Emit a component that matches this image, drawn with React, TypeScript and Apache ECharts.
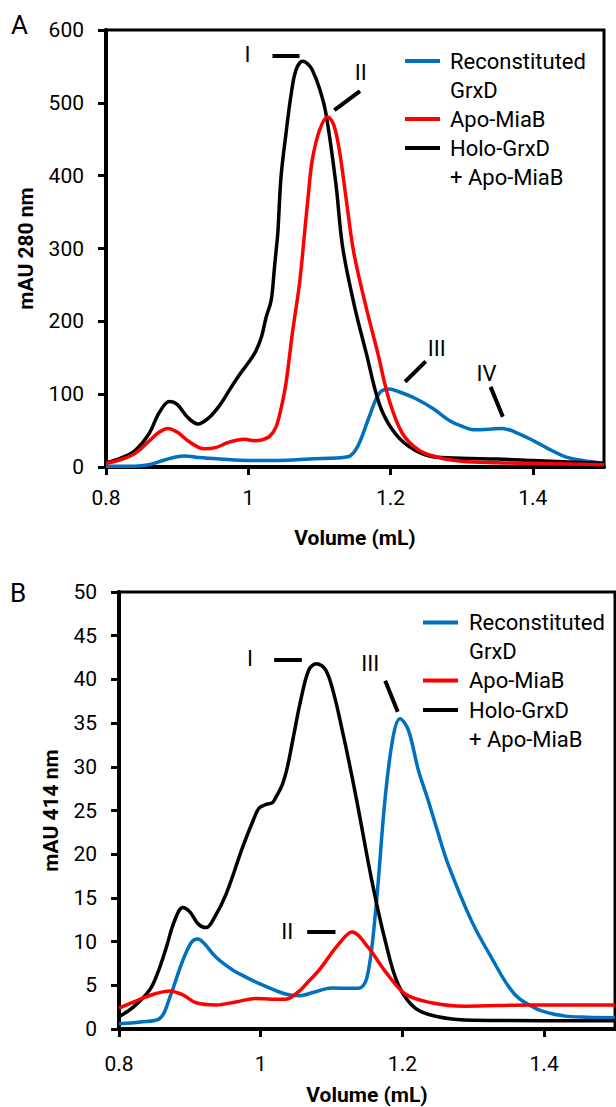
import React, { useEffect, useRef } from "react";
import * as echarts from "echarts";

const FONT = "Roboto, Lato, sans-serif";

const seriesNames = ["Reconstituted GrxD", "Apo-MiaB", "Holo-GrxD + Apo-MiaB"];
const legendLines = [["Reconstituted", "GrxD"], ["Apo-MiaB"], ["Holo-GrxD", "+ Apo-MiaB"]];
const colors = ["#0070C0", "#FF0000", "#000000"];

const xTicks = [0.8, 1.0, 1.2, 1.4];

// Panel A: absorbance at 280 nm (mAU) vs elution volume (mL)
const blueA: [number, number][] = [
  [0.8, 1], [0.84, 1], [0.86, 3], [0.88, 9], [0.9, 14], [0.911, 15], [0.93, 13], [0.96, 11],
  [1.0, 9], [1.04, 9], [1.086, 11], [1.14, 14], [1.1536, 28], [1.17, 69], [1.184, 101],
  [1.198, 107], [1.21, 104], [1.235, 94], [1.26, 80], [1.2826, 64], [1.3, 56], [1.319, 51],
  [1.34, 52], [1.357, 53], [1.375, 48], [1.399, 37], [1.42, 26], [1.446, 14], [1.47, 9], [1.5, 5],
];
const redA: [number, number][] = [
  [0.8, 5], [0.82, 10], [0.84, 18], [0.86, 35], [0.875, 48], [0.887, 53], [0.9, 48], [0.915, 36],
  [0.93, 27], [0.939, 25], [0.955, 27], [0.97, 33], [0.985, 37], [0.995, 38], [1.008, 36],
  [1.018, 37], [1.03, 42], [1.039, 55], [1.046, 80], [1.053, 115], [1.062, 184], [1.072, 252],
  [1.079, 320], [1.085, 380], [1.09, 422], [1.1, 462], [1.1115, 481], [1.12, 470], [1.128, 435],
  [1.138, 365], [1.148, 296], [1.165, 222], [1.1816, 158], [1.198, 92], [1.2167, 46], [1.24, 23],
  [1.268, 13], [1.3, 8], [1.35, 6], [1.4, 5], [1.45, 4], [1.5, 3],
];
const blackA: [number, number][] = [
  [0.8, 6], [0.82, 12], [0.84, 22], [0.86, 45], [0.875, 75], [0.889, 90], [0.9, 86], [0.915, 68],
  [0.929, 59], [0.945, 68], [0.96, 85], [0.975, 108], [0.99, 130], [1.0, 143], [1.01, 158],
  [1.018, 177], [1.0252, 206], [1.0322, 229], [1.0369, 275], [1.0392, 298], [1.0415, 321],
  [1.046, 398], [1.053, 458], [1.06, 510], [1.067, 545], [1.0765, 557], [1.084, 553],
  [1.09, 545], [1.1, 520], [1.109, 486], [1.123, 390], [1.1326, 302], [1.149, 222],
  [1.1654, 158], [1.184, 87], [1.2026, 51], [1.226, 28], [1.259, 14], [1.3, 12], [1.35, 11],
  [1.4, 9], [1.45, 7], [1.5, 5],
];

// Panel B: absorbance at 414 nm (mAU) vs elution volume (mL)
const blueB: [number, number][] = [
  [0.8, 0.6], [0.83, 0.8], [0.8575, 1.2], [0.8716, 3.6], [0.888, 7.4], [0.902, 9.9],
  [0.9113, 10.3], [0.92, 9.8], [0.937, 8.2], [0.9604, 6.75], [0.98, 5.9], [0.998, 5.2],
  [1.035, 4.0], [1.054, 3.8], [1.075, 4.2], [1.1, 4.7], [1.138, 4.65], [1.15, 5.9],
  [1.1617, 13.1], [1.1757, 26.5], [1.187, 33.5], [1.1966, 35.5], [1.2084, 34.2],
  [1.2225, 29.6], [1.235, 26.5], [1.25, 22.5], [1.2646, 18.8], [1.2973, 12.4], [1.3254, 8.2],
  [1.358, 4.0], [1.391, 2.25], [1.428, 1.5], [1.46, 1.35], [1.5, 1.3],
];
const redB: [number, number][] = [
  [0.8, 2.4], [0.8295, 3.4], [0.85, 4.0], [0.8716, 4.35], [0.89, 3.9], [0.909, 3.0],
  [0.937, 2.75], [0.965, 3.1], [0.993, 3.5], [1.015, 3.4], [1.035, 3.4], [1.054, 4.3],
  [1.068, 5.5], [1.082, 6.7], [1.11, 9.7], [1.129, 11.1], [1.152, 9.3], [1.1757, 6.6],
  [1.204, 4.0], [1.241, 3.0], [1.288, 2.6], [1.38, 2.75], [1.5, 2.75],
];
const blackB: [number, number][] = [
  [0.8, 1.4], [0.82, 2.5], [0.8435, 4.5], [0.855, 6.5], [0.867, 9.4], [0.878, 12.3],
  [0.89, 13.9], [0.9, 13.4], [0.912, 12.0], [0.923, 11.6], [0.935, 12.8], [0.951, 15.4],
  [0.9745, 20.8], [0.99, 24.0], [0.998, 25.3], [1.008, 25.7], [1.0166, 25.9], [1.0213, 26.5],
  [1.0306, 28.0], [1.0377, 30.0], [1.047, 33.8], [1.0564, 37.6], [1.068, 41.1], [1.0785, 41.8],
  [1.0916, 41.1], [1.103, 38.4], [1.115, 34.2], [1.124, 30.8], [1.137, 25.5], [1.157, 16.9],
  [1.1757, 10.1], [1.194, 5.1], [1.218, 2.4], [1.25, 1.4], [1.3, 1.0], [1.4, 0.95], [1.5, 0.95],
];

// Peak annotations (data coordinates)
const peakLabelsA = [
  { name: "I", coord: [0.999, 566] },
  { name: "II", coord: [1.158, 542] },
  { name: "III", coord: [1.265, 163] },
  { name: "IV", coord: [1.335, 129] },
];
const peakLinesA = [
  [[1.034, 564], [1.072, 564]],
  [[1.121, 490], [1.157, 516]],
  [[1.2204, 117], [1.2494, 145]],
  [[1.3406, 110], [1.3578, 69]],
];
const peakLabelsB = [
  { name: "I", coord: [0.985, 42.4] },
  { name: "III", coord: [1.1547, 41.8] },
  { name: "II", coord: [1.0376, 11.1] },
];
const peakLinesB = [
  [[1.019, 42.3], [1.058, 42.3]],
  [[1.1757, 39.85], [1.1934, 36.3]],
  [[1.0657, 11.1], [1.1055, 11.1]],
];

const fmtX = (v: number) => String(Math.round(v * 10) / 10);

function makeAxes(gridIndex: number, yName: string, yMax: number, yInterval: number, xGap: number, yGap: number, xLabelMargin: number) {
  const xAxis = {
    gridIndex,
    type: "value",
    min: 0.8,
    max: 1.5,
    interval: 0.2,
    name: "Volume (mL)",
    nameLocation: "middle",
    nameGap: xGap,
    nameTextStyle: { fontFamily: FONT, fontWeight: "bold", fontSize: 21, color: "#000" },
    axisLine: { show: true, onZero: false, lineStyle: { color: "#000", width: 4 } },
    axisTick: { show: true, length: 8, customValues: xTicks, lineStyle: { color: "#000", width: 3 } },
    axisLabel: { customValues: xTicks, formatter: fmtX, fontFamily: FONT, fontSize: 21, color: "#000", margin: xLabelMargin },
    splitLine: { show: false },
  };
  const yAxis = {
    gridIndex,
    type: "value",
    min: 0,
    max: yMax,
    interval: yInterval,
    name: yName,
    nameLocation: "middle",
    nameRotate: 90,
    nameGap: yGap,
    nameTextStyle: { fontFamily: FONT, fontWeight: "bold", fontSize: 21, color: "#000" },
    axisLine: { show: true, onZero: false, lineStyle: { color: "#000", width: 4 } },
    axisTick: { show: true, length: 8, lineStyle: { color: "#000", width: 3 } },
    axisLabel: { fontFamily: FONT, fontSize: 21, color: "#000", margin: 22 },
    splitLine: { show: false },
  };
  return { xAxis, yAxis };
}

function lineSeries(name: string, color: string, data: [number, number][], idx: number, extra: any = {}) {
  return {
    type: "line",
    name,
    xAxisIndex: idx,
    yAxisIndex: idx,
    data,
    smooth: 0.35,
    showSymbol: false,
    symbol: "none",
    lineStyle: { color, width: 3.5 },
    itemStyle: { color },
    ...extra,
  };
}

function annotations(labels: any[], lines: any[]) {
  return {
    markPoint: {
      silent: true,
      symbol: "circle",
      symbolSize: 0,
      label: { show: true, position: "inside", formatter: "{b}", fontFamily: FONT, fontSize: 22, color: "#000" },
      data: labels.map((l) => ({ name: l.name, coord: l.coord })),
    },
    markLine: {
      silent: true,
      symbol: ["none", "none"],
      label: { show: false },
      lineStyle: { color: "#000", width: 4, type: "solid" },
      data: lines.map((seg) => [{ coord: seg[0] }, { coord: seg[1] }]),
    },
  };
}

function legendGraphic(lineX: number, textX: number, rowYs: number[]) {
  const els: any[] = [];
  let row = 0;
  legendLines.forEach((lines, i) => {
    const y = rowYs[row];
    els.push({
      type: "line",
      shape: { x1: lineX, y1: y, x2: lineX + 35, y2: y },
      style: { stroke: colors[i], lineWidth: 4 },
      silent: true,
    });
    lines.forEach((t) => {
      els.push({
        type: "text",
        x: textX,
        y: rowYs[row],
        style: { text: t, fontFamily: FONT, fontSize: 22, fill: "#000", align: "left", verticalAlign: "middle" },
        silent: true,
      });
      row++;
    });
  });
  return els;
}

export default function App() {
  const ref = useRef<HTMLDivElement>(null);
  useEffect(() => {
    document.body.style.margin = "0";
    const chart = echarts.init(ref.current!, undefined, { renderer: "svg" });
    const a = makeAxes(0, "mAU 280 nm", 600, 100, 60, 70, 20);
    const b = makeAxes(1, "mAU 414 nm", 50, 5, 55, 58, 24);
    chart.setOption({
      animation: false,
      backgroundColor: "#fff",
      grid: [
        { left: 106, top: 30, width: 498, height: 437, show: true, borderColor: "#000", borderWidth: 3, backgroundColor: "transparent" },
        { left: 119, top: 592, width: 496, height: 437, show: true, borderColor: "#000", borderWidth: 3, backgroundColor: "transparent" },
      ],
      xAxis: [a.xAxis, b.xAxis],
      yAxis: [a.yAxis, b.yAxis],
      series: [
        lineSeries(seriesNames[0], colors[0], blueA, 0),
        lineSeries(seriesNames[2], colors[2], blackA, 0, annotations(peakLabelsA, peakLinesA)),
        lineSeries(seriesNames[1], colors[1], redA, 0),
        lineSeries(seriesNames[0], colors[0], blueB, 1),
        lineSeries(seriesNames[2], colors[2], blackB, 1, annotations(peakLabelsB, peakLinesB)),
        lineSeries(seriesNames[1], colors[1], redB, 1),
      ],
      graphic: [
        { type: "text", x: 11, y: 25, style: { text: "A", fontFamily: FONT, fontSize: 26, fill: "#000", verticalAlign: "middle" } },
        { type: "text", x: 10, y: 593, style: { text: "B", fontFamily: FONT, fontSize: 26, fill: "#000", verticalAlign: "middle" } },
        ...legendGraphic(405, 450, [61, 90, 119, 148, 177]),
        ...legendGraphic(423, 469, [622.5, 651.7, 680.5, 710, 739.5]),
      ],
    });
    return () => chart.dispose();
  }, []);
  return <div ref={ref} style={{ width: 616, height: 1107 }} />;
}
